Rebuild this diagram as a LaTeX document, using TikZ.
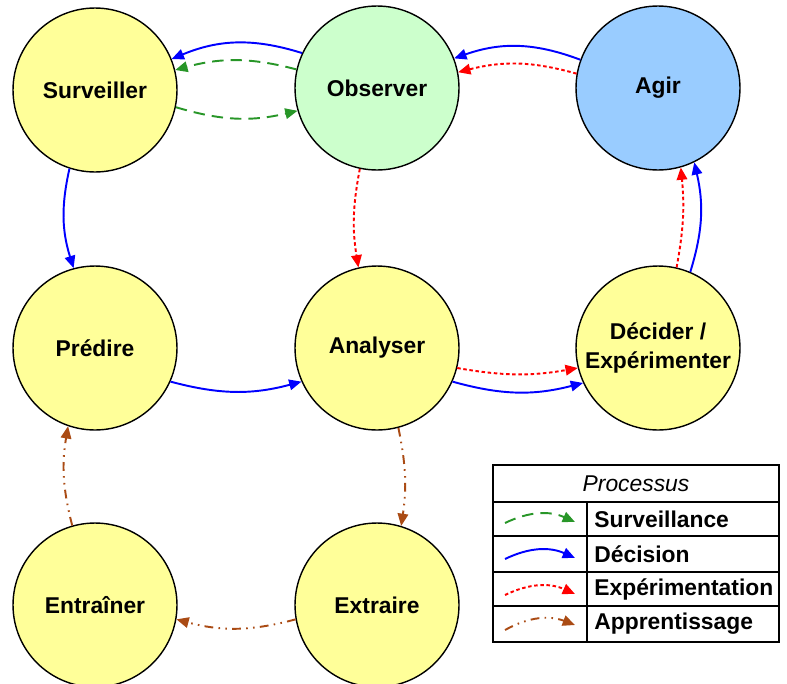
\documentclass[tikz,border=0pt]{standalone}
\usepackage{fontspec}
\setmainfont{Liberation Sans}
\usetikzlibrary{arrows.meta}
\usetikzlibrary{calc,positioning}

\definecolor{jaune}{RGB}{255,255,153}
\definecolor{vertclair}{RGB}{204,255,204}
\definecolor{bleuclair}{RGB}{153,204,255}
\definecolor{vert}{RGB}{40,150,40}
\definecolor{bleu}{RGB}{0,0,255}
\definecolor{rouge}{RGB}{255,0,0}
\definecolor{brun}{RGB}{170,75,20}

\begin{document}
\begin{tikzpicture}[x=0.02cm,y=-0.02cm,>={Triangle[length=7pt,width=6pt]},
    etat/.style={circle,draw,line width=0.8pt,minimum size=3.28cm,inner sep=0pt,
        align=center,font=\fontsize{13}{16}\selectfont\bfseries},
    surv/.style={vert,line width=1.1pt,dash pattern=on 6.5pt off 4pt},
    decis/.style={bleu,line width=1.1pt},
    exper/.style={rouge,line width=1.1pt,dash pattern=on 2pt off 1.5pt},
    appr/.style={brun,line width=1.1pt,dash pattern=on 5pt off 3pt on 0.9pt off 3pt on 0.9pt off 3pt},
    leg/.style={anchor=west,inner sep=0pt,font=\fontsize{13}{16}\selectfont\bfseries}]

    \useasboundingbox (0,0) rectangle (787,683);

    % les etats
    \node[etat,fill=jaune] (surveiller) at (95,90) {Surveiller};
    \node[etat,fill=vertclair] (observer) at (377,88) {Observer};
    \node[etat,fill=bleuclair] (agir) at (658,88) {Agir};
    \node[etat,fill=jaune] (predire) at (95,348) {Prédire};
    \node[etat,fill=jaune] (analyser) at (377,348) {Analyser};
    \node[etat,fill=jaune] (decider) at (658,348) {Décider /\\Expérimenter};
    \node[etat,fill=jaune] (entrainer) at (95,605) {Entraîner};
    \node[etat,fill=jaune] (extraire) at (377,605) {Extraire};

    % surveillance
    \draw[surv,->] (observer.167) to[bend right=15] (surveiller.14);
    \draw[surv,->] (surveiller.-12) to[bend right=15] (observer.196);

    % decision
    \draw[decis,->] (observer.155) to[bend right=20] (surveiller.22);
    \draw[decis,->] (agir.160) to[bend right=20] (observer.21);
    \draw[decis,->] (surveiller.252) to[bend right=15] (predire.105);
    \draw[decis,->] (predire.-24) to[bend right=15] (analyser.204);
    \draw[decis,->] (analyser.-24) to[bend right=15] (decider.205);
    \draw[decis,->] (decider.67) to[bend right=15] (agir.-64);

    % experimentation
    \draw[exper,->] (agir.170) to[bend right=15] (observer.11);
    \draw[exper,->] (observer.258) to[bend right=10] (analyser.103);
    \draw[exper,->] (analyser.-14) to[bend right=10] (decider.194);
    \draw[exper,->] (decider.77) to[bend right=8] (agir.-74);

    % apprentissage
    \draw[appr,->] (analyser.-75) to[bend left=10] (extraire.73);
    \draw[appr,->] (extraire.190) to[bend left=15] (entrainer.-10);
    \draw[appr,->] (entrainer.106) to[bend left=12] (predire.-109);

    % legende
    \draw[line width=0.8pt] (493,465) rectangle (779,642);
    \draw[line width=0.6pt] (493,502) -- (779,502);
    \draw[line width=0.6pt] (493,536) -- (779,536);
    \draw[line width=0.6pt] (493,572) -- (779,572);
    \draw[line width=0.6pt] (493,606) -- (779,606);
    \draw[line width=0.6pt] (587,502) -- (587,642);
    \node[font=\fontsize{13}{16}\selectfont\itshape] (titre) at (636,484) {Processus};

    \coordinate (s1) at (505,523); \coordinate (s2) at (575,522);
    \coordinate (d1) at (505,559); \coordinate (d2) at (575,558);
    \coordinate (e1) at (505,595); \coordinate (e2) at (575,594);
    \coordinate (a1) at (505,630); \coordinate (a2) at (575,625);
    \draw[surv,->] (s1) to[bend left=25] (s2);
    \draw[decis,->] (d1) to[bend left=25] (d2);
    \draw[exper,->] (e1) to[bend left=25] (e2);
    \draw[appr,->] (a1) to[bend left=25] (a2);

    \node[leg] (lsurv) at (594,519) {Surveillance};
    \node[leg] (ldecis) at (594,554) {Décision};
    \node[leg] (lexper) at (594,589) {Expérimentation};
    \node[leg] (lappr) at (594,624) {Apprentissage};

\end{tikzpicture}
\end{document}
